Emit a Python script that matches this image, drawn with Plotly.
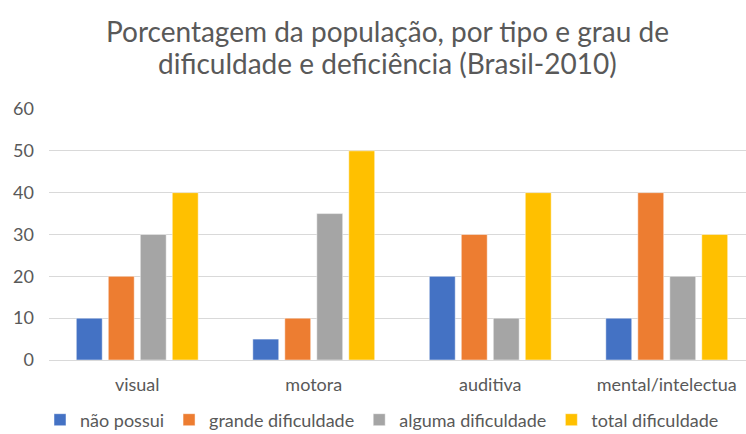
import plotly.graph_objects as go

categories = ["visual", "motora", "auditiva", "mental/intelectua"]
series_names = ["não possui", "grande dificuldade", "alguma dificuldade", "total dificuldade"]
nao_possui = [10, 5, 20, 10]
grande_dificuldade = [20, 10, 30, 40]
alguma_dificuldade = [30, 35, 10, 20]
total_dificuldade = [40, 50, 40, 30]
y_ticks = [0, 10, 20, 30, 40, 50, 60]
title_lines = ["Porcentagem da população, por tipo e grau de",
               "dificuldade e deficiência (Brasil-2010)"]

colors = ["#4472C4", "#ED7D31", "#A5A5A5", "#FFC000"]
values = [nao_possui, grande_dificuldade, alguma_dificuldade, total_dificuldade]

FONT = "Lato"
TXT = "#595959"

# plot area in pixels
L, R, T, B = 49, 0, 109, 74
PW, PH = 746 - L - R, 434 - T - B

fig = go.Figure()
for name, vals, col in zip(series_names, values, colors):
    fig.add_trace(go.Bar(
        x=categories, y=vals, name=name,
        marker=dict(color=col, line=dict(color="rgba(255,255,255,0.6)", width=0.8)),
    ))

def px_to_py(py):
    return (434 - B - py) / PH

for line, yc in zip(title_lines, [31, 63]):
    fig.add_annotation(
        text=line, xref="paper", yref="paper",
        x=(387.5 - L) / PW, y=px_to_py(yc), xanchor="center", yanchor="middle",
        showarrow=False, font=dict(family=FONT, size=28, color=TXT),
    )

fig.update_layout(
    width=746, height=434,
    barmode="group", bargap=0.275, bargroupgap=0.19,
    paper_bgcolor="white", plot_bgcolor="white",
    margin=dict(l=L, r=R, t=T, b=B, autoexpand=False),
    font=dict(family=FONT, color=TXT, size=18),
    xaxis=dict(
        type="category", range=[-0.5, 3.449],
        showline=True, linecolor="#d9d9d9", linewidth=1,
        ticks="", showgrid=False, zeroline=False,
        tickfont=dict(family=FONT, size=18, color=TXT),
        ticklabelstandoff=8,
    ),
    yaxis=dict(
        range=[0, 60], tickvals=y_ticks,
        showgrid=True, gridcolor="#d9d9d9", gridwidth=1,
        zeroline=False, showline=False, ticks="",
        tickfont=dict(family=FONT, size=18, color=TXT),
        ticklabelstandoff=14,
    ),
    legend=dict(
        orientation="h", x=(40 - L) / PW, xref="paper", xanchor="left",
        y=px_to_py(420), yanchor="middle",
        font=dict(family=FONT, size=18, color=TXT),
        bgcolor="rgba(0,0,0,0)",
    ),
    showlegend=True,
)

fig.write_html("out.html", config={"displayModeBar": False},
               post_script="document.body.style.margin='0';document.body.style.padding='0';")
